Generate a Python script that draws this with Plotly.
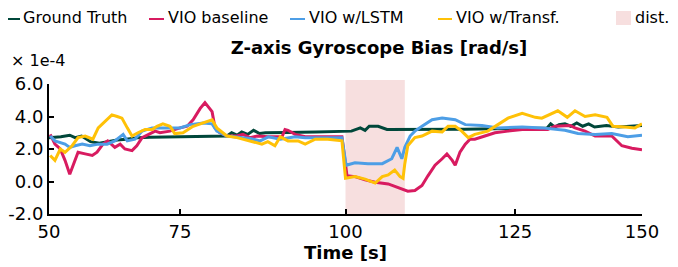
import plotly.graph_objects as go

# ---------------- data (values in units of 1e-4 rad/s) ----------------
gt_t = [50.0, 52.0, 53.5, 54.4, 55.5, 57.0, 58.5, 60.0, 61.5, 63.0, 65.0, 67.0, 70.0, 75.0,
        80.0, 80.8, 81.7, 82.5, 83.5, 84.5, 85.5, 86.5, 88.0, 90.0, 95.0, 100.0, 101.0, 102.5,
        103.3, 104.0, 105.5, 107.0, 110.0, 115.0, 120.0, 125.0, 130.0, 134.0, 134.6, 135.3,
        136.0, 137.0, 138.0, 139.0, 140.0, 141.0, 142.0, 144.0, 146.0, 150.0]
gt_v = [2.7, 2.75, 2.85, 2.7, 2.8, 2.45, 2.35, 2.45, 2.55, 2.6, 2.7, 2.72, 2.73, 2.76,
        2.8, 3.0, 2.85, 3.05, 2.9, 3.15, 2.95, 3.0, 3.0, 3.02, 3.05, 3.08, 3.1, 3.3,
        3.15, 3.4, 3.4, 3.2, 3.2, 3.2, 3.22, 3.25, 3.3, 3.3, 3.55, 3.35,
        3.5, 3.55, 3.4, 3.6, 3.4, 3.55, 3.35, 3.45, 3.35, 3.45]

base_t = [50.2, 51.0, 51.9, 52.7, 53.5, 54.4, 54.9, 56.1, 57.3, 58.1, 59.1, 59.9, 61.1, 62.0,
          62.8, 64.0, 64.8, 65.7, 66.7, 67.9, 68.7, 70.4, 72.1, 73.3, 74.3, 75.5, 76.3, 76.8,
          77.5, 78.0, 78.8, 80.0, 81.7, 82.7, 83.9, 85.1, 86.9, 89.3, 89.8, 90.3, 91.5, 93.2,
          95.7, 99.4, 100.25, 101.6, 103.3, 105.0, 107.2, 108.9, 110.5, 111.7, 112.9, 113.9,
          115.1, 116.3, 117.1, 118.0, 118.5, 119.3, 120.2, 121.0, 121.8, 123.5, 125.2, 127.4,
          129.8, 134.1, 135.3, 137.9, 138.7, 140.4, 142.1, 144.9, 146.6, 148.3, 150.0]
base_v = [2.9, 2.3, 2.0, 1.3, 0.45, 1.3, 1.8, 1.7, 1.6, 1.8, 2.3, 2.5, 2.1, 2.3,
          2.0, 1.9, 2.2, 2.7, 2.9, 3.1, 3.0, 3.1, 3.3, 3.4, 3.8, 4.5, 4.85, 4.6,
          4.3, 3.3, 3.0, 2.8, 2.8, 2.9, 2.7, 2.8, 2.75, 2.75, 3.2, 3.15, 2.9, 2.75,
          2.75, 2.75, 0.35, 0.3, 0.1, -0.05, -0.15, -0.4, -0.6, -0.55, -0.25, 0.35,
          1.0, 1.4, 1.7, 1.3, 1.0, 1.8, 2.3, 2.6, 2.6, 2.8, 3.0, 3.1,
          3.2, 3.2, 3.4, 3.45, 3.3, 3.1, 2.8, 2.8, 2.2, 2.05, 1.95]

lstm_t = [50.2, 51.0, 52.7, 53.5, 54.4, 55.6, 56.9, 58.3, 59.8, 61.1, 62.5, 63.2, 64.5, 65.7,
          67.4, 68.7, 72.1, 73.8, 76.0, 77.5, 78.3, 80.0, 82.2, 83.9, 85.6, 87.0, 89.0, 91.5,
          93.2, 97.0, 99.4, 100.1, 101.6, 103.8, 106.2, 107.8, 108.7, 109.5, 110.0, 110.9,
          111.7, 112.9, 114.6, 116.3, 118.5, 120.2, 123.0, 125.7, 129.8, 133.1, 135.3, 137.0,
          139.2, 142.1, 144.9, 147.6, 150.0]
lstm_v = [2.8, 2.5, 2.3, 2.1, 2.2, 2.3, 2.2, 2.3, 2.3, 2.5, 2.9, 2.5, 2.6, 3.1,
          3.3, 3.3, 3.3, 3.5, 3.6, 3.55, 3.1, 2.8, 2.7, 2.65, 2.5, 2.75, 2.6, 2.75,
          2.7, 2.7, 2.7, 1.0, 1.15, 1.1, 1.1, 1.4, 2.1, 1.4, 2.1, 2.8,
          3.1, 3.4, 3.8, 3.9, 3.8, 3.5, 3.45, 3.3, 3.35, 3.3, 3.2, 3.15,
          2.95, 2.9, 2.95, 2.75, 2.85]

tr_t = [50.2, 51.0, 51.9, 52.7, 53.9, 54.9, 56.1, 57.4, 58.3, 59.4, 60.6, 61.5, 62.3, 63.2,
        64.0, 65.0, 66.2, 67.4, 68.2, 69.2, 70.4, 71.2, 72.6, 74.3, 76.0, 77.5, 78.3, 80.0,
        81.7, 83.9, 85.6, 85.9, 86.9, 88.1, 89.0, 90.3, 92.0, 93.2, 94.9, 97.0, 99.4, 100.0,
        101.6, 103.3, 105.0, 106.2, 107.2, 108.3, 109.2, 109.7, 110.0, 110.5, 111.7, 112.9,
        114.6, 116.3, 117.3, 118.5, 119.6, 120.7, 121.8, 124.0, 125.7, 127.4, 129.8, 132.0,
        133.1, 135.8, 137.4, 138.7, 140.4, 142.1, 144.1, 145.1, 147.1, 148.8, 150.0]
tr_v = [1.6, 1.3, 2.0, 1.8, 2.2, 2.7, 2.8, 2.6, 3.3, 3.7, 4.1, 4.0, 3.9, 3.3,
        2.8, 3.0, 3.2, 3.2, 3.4, 3.55, 3.4, 2.95, 3.0, 3.4, 3.6, 3.8, 3.3, 2.8,
        2.7, 2.5, 2.35, 2.3, 2.45, 2.2, 2.75, 2.5, 2.5, 2.3, 2.6, 2.6, 2.5, 0.2,
        0.3, 0.15, -0.1, 0.3, 0.4, 0.7, 0.3, 0.2, 1.1, 2.2, 2.7, 2.8,
        3.1, 3.05, 3.4, 3.4, 3.1, 2.7, 2.9, 3.1, 3.5, 3.9, 4.2, 3.95,
        3.9, 4.35, 3.95, 4.35, 4.0, 4.1, 3.95, 3.4, 3.35, 3.3, 3.55]

dist_start, dist_end = 100.0, 110.0

tick_vals = [50, 72.1, 100, 128.6, 150]
tick_text = ["50", "75", "100", "125", "150"]
y_ticks = [-2, 0, 2, 4, 6]
y_text = ["-2.0", "0.0", "2.0", "4.0", "6.0"]

series_names = ["Ground Truth", "VIO baseline", "VIO w/LSTM", "VIO w/Transf."]
series_colors = ["#00473a", "#d81b60", "#4d9ee6", "#ffc107"]
dist_color = "#f7dfdf"

FONT = "DejaVu Sans"
FS_LEG = 16
FS_AX = 18

# page body has an 8 px default margin; figure is sized so it fills the window exactly
OFF = 8
FIG_W, FIG_H = 678 - OFF, 267 - OFF

fig = go.Figure()
for t, v, name, col in zip([gt_t, base_t, lstm_t, tr_t], [gt_v, base_v, lstm_v, tr_v],
                           series_names, series_colors):
    fig.add_trace(go.Scatter(x=t, y=v, mode="lines", name=name,
                             line=dict(color=col, width=3), showlegend=False))

# disturbance band
fig.add_shape(type="rect", xref="x", yref="paper", x0=dist_start, x1=dist_end,
              y0=0, y1=1.03, fillcolor=dist_color, line=dict(width=0), layer="below")

# manual legend (positions relative to the plot area, given in window pixels)
L, W, B, H = 49, 593, 214, 130
def px2x(px): return (px - L) / W
def py2y(py): return (B - py) / H

leg_line_px = [(4, 20), (149, 164), (290, 305), (438, 452)]
leg_text_px = [21, 166, 307, 454]
for (a, b), tx, name, col in zip(leg_line_px, leg_text_px, series_names, series_colors):
    fig.add_shape(type="line", xref="paper", yref="paper", x0=px2x(a), x1=px2x(b),
                  y0=py2y(19), y1=py2y(19), line=dict(color=col, width=2))
    fig.add_annotation(xref="paper", yref="paper", x=px2x(tx), y=py2y(17), text=name,
                       showarrow=False, xanchor="left", yanchor="middle",
                       font=dict(family=FONT, size=FS_LEG, color="black"))
fig.add_shape(type="rect", xref="paper", yref="paper", x0=px2x(616), x1=px2x(631),
              y0=py2y(25), y1=py2y(11), fillcolor=dist_color, line=dict(width=0))
fig.add_annotation(xref="paper", yref="paper", x=px2x(633), y=py2y(17), text="dist.",
                   showarrow=False, xanchor="left", yanchor="middle",
                   font=dict(family=FONT, size=FS_LEG, color="black"))

# scale note
fig.add_annotation(xref="paper", yref="paper", x=px2x(9), y=py2y(60), text="× 1e-4",
                   showarrow=False, xanchor="left", yanchor="middle",
                   font=dict(family=FONT, size=FS_LEG, color="black"))

fig.update_layout(
    width=FIG_W, height=FIG_H,
    margin=dict(l=49 - OFF, r=678 - 642, t=84 - OFF, b=267 - 214, autoexpand=False),
    paper_bgcolor="white", plot_bgcolor="white",
    font=dict(family=FONT, size=FS_AX, color="black"),
    title=dict(text="<b>Z-axis Gyroscope Bias [rad/s]</b>", xref="container", yref="container",
               x=(379 - OFF) / FIG_W, y=1 - (48 - OFF) / FIG_H, xanchor="center",
               yanchor="middle", automargin=False,
               font=dict(family=FONT, size=FS_AX, color="black")),
    xaxis=dict(range=[50, 150], tickvals=tick_vals, ticktext=tick_text, automargin=False,
               showline=True, linecolor="black", linewidth=2, ticks="inside", ticklen=5,
               tickwidth=1.5, tickcolor="black", showgrid=False, zeroline=False,
               title=dict(text="<b>Time [s]</b>", standoff=0,
                          font=dict(family=FONT, size=FS_AX))),
    yaxis=dict(range=[-2, 6], tickvals=y_ticks, ticktext=y_text, automargin=False,
               showline=True, linecolor="black", linewidth=2, ticks="inside", ticklen=5,
               tickwidth=1.5, tickcolor="black", showgrid=False, zeroline=False),
)

fig.write_html("out.html")
